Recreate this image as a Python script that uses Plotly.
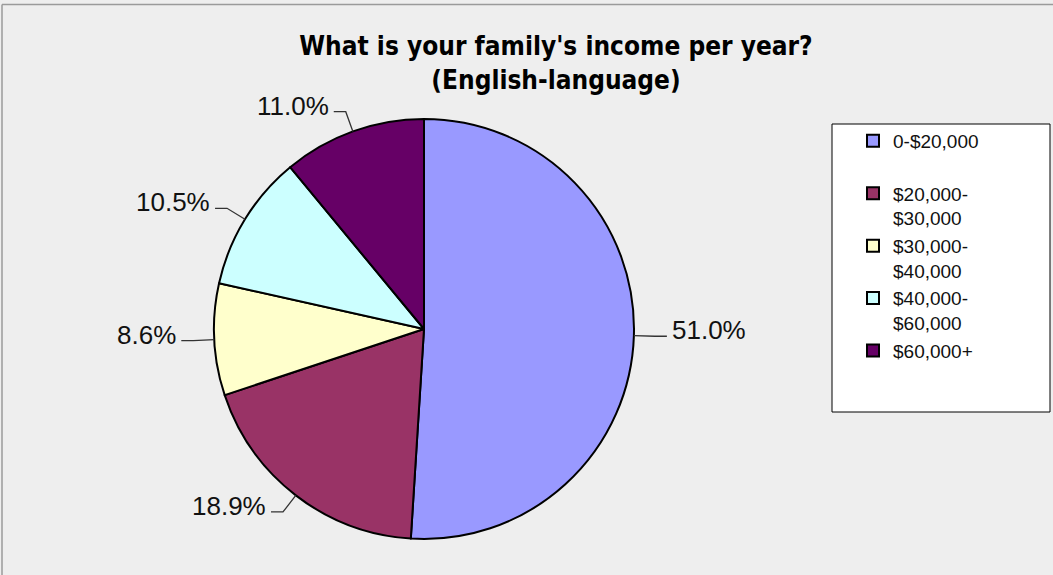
import math
import plotly.graph_objects as go

# Income brackets and share of respondents (%)
brackets = ["0-$20,000<br>\u00a0", "$20,000-<br>$30,000", "$30,000-<br>$40,000",
            "$40,000-<br>$60,000", "$60,000+"]
shares = [51.0, 18.9, 8.6, 10.5, 11.0]
slice_colors = ["#9999FF", "#993366", "#FFFFCC", "#CCFFFF", "#660066"]

W, H = 1053, 575
CX, CY, R = 424, 329, 210          # pie centre and radius in pixels
LEAD, ARM, GAP = 21, 12, 3         # leader-line geometry


def fx(x):
    return x / W


def fy(y):
    return 1 - y / H


fig = go.Figure(go.Pie(
    labels=brackets,
    values=shares,
    sort=False,
    direction="clockwise",
    rotation=0,
    marker=dict(colors=slice_colors, line=dict(color="#000000", width=2)),
    textinfo="none",
    hoverinfo="label+percent",
    domain=dict(x=[fx(CX - R), fx(CX + R)], y=[fy(CY + R), fy(CY - R)]),
))

shapes = [
    # outer frame (top and left edges)
    dict(type="line", xref="paper", yref="paper", x0=fx(2), x1=1.01, y0=fy(4.5), y1=fy(4.5),
         line=dict(color="#9A9A9A", width=1.5)),
    dict(type="line", xref="paper", yref="paper", x0=fx(2), x1=fx(2), y0=fy(4.5), y1=-0.01,
         line=dict(color="#9A9A9A", width=1.5)),
    # legend box
    dict(type="rect", xref="paper", yref="paper", x0=fx(832), x1=fx(1050), y0=fy(412), y1=fy(124),
         fillcolor="#FFFFFF", line=dict(color="#000000", width=1), layer="below"),
]
annotations = []

total = sum(shares)
cum = 0.0
for v in shares:
    mid = (cum + v / 2) / total
    cum += v
    theta = math.pi / 2 - 2 * math.pi * mid
    c, s = math.cos(theta), math.sin(theta)
    px0, py0 = CX + R * c, CY - R * s
    ex, ey = px0 + LEAD * c, py0 - LEAD * s
    side = 1 if c >= 0 else -1
    qx, qy = ex + side * ARM, ey
    shapes.append(dict(
        type="path", xref="paper", yref="paper",
        path=f"M {fx(px0)},{fy(py0)} L {fx(ex)},{fy(ey)} L {fx(qx)},{fy(qy)}",
        line=dict(color="#333333", width=1.3),
    ))
    annotations.append(dict(
        x=fx(qx + side * GAP), y=fy(qy - 6), xref="paper", yref="paper",
        text=f"{v:.1f}%", showarrow=False,
        xanchor="left" if side > 0 else "right", yanchor="middle",
        font=dict(family="Arial, Liberation Sans, sans-serif", size=26, color="#111111"),
    ))

fig.update_layout(
    width=W, height=H,
    margin=dict(l=0, r=0, t=0, b=0),
    paper_bgcolor="#EEEEEE",
    plot_bgcolor="#EEEEEE",
    title=dict(
        text="<b>What is your family's income per year?<br>(English-language)</b>",
        x=fx(556), xanchor="center", y=fy(55), yanchor="middle",
        font=dict(family="Liberation Sans Narrow, DejaVu Sans Condensed, Arial Narrow, sans-serif",
                  size=26, color="#000000"),
    ),
    showlegend=True,
    legend=dict(
        x=fx(853), xanchor="left", y=fy(122), yanchor="top",
        bgcolor="rgba(0,0,0,0)", borderwidth=0,
        valign="top", tracegroupgap=0,
        font=dict(family="Arial, Liberation Sans, sans-serif", size=19, color="#111111"),
    ),
    shapes=shapes,
    annotations=annotations,
)

fig.write_html("out.html")
